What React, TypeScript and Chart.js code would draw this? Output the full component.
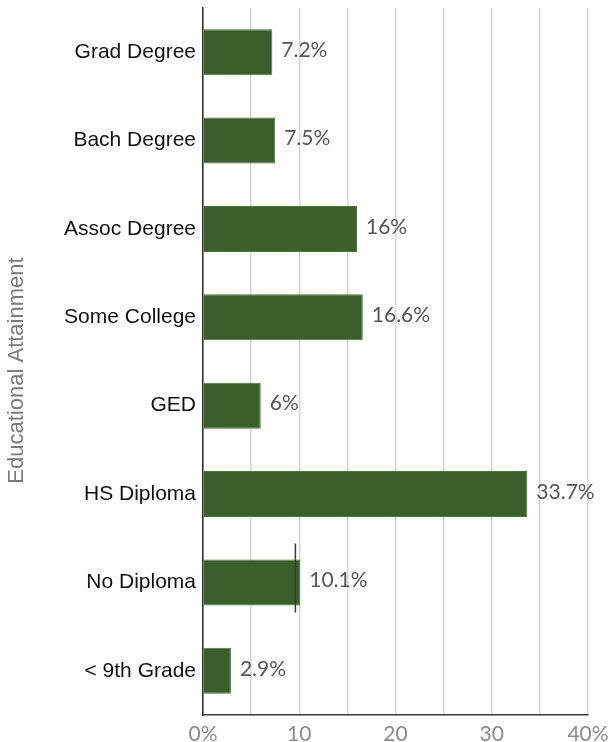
import React, { useEffect, useRef } from "react";
import { Chart, registerables } from "chart.js";

Chart.register(...registerables);

const categories = [
  "Grad Degree",
  "Bach Degree",
  "Assoc Degree",
  "Some College",
  "GED",
  "HS Diploma",
  "No Diploma",
  "< 9th Grade",
];
const values = [7.2, 7.5, 16, 16.6, 6, 33.7, 10.1, 2.9];
const valueLabels = ["7.2%", "7.5%", "16%", "16.6%", "6%", "33.7%", "10.1%", "2.9%"];
const xTickLabels: Record<number, string> = { 0: "0%", 10: "10", 20: "20", 30: "30", 40: "40%" };
const markerCategory = "No Diploma";
const markerValue = 9.6;
const axisTitle = "Educational Attainment";

const valueLabelPlugin = {
  id: "valueLabels",
  afterDatasetsDraw(chart: any) {
    const ctx = chart.ctx;
    const meta = chart.getDatasetMeta(0);
    ctx.save();
    ctx.font = "21px Lato, 'Liberation Sans', sans-serif";
    ctx.fillStyle = "#555555";
    ctx.textAlign = "left";
    ctx.textBaseline = "middle";
    meta.data.forEach((bar: any, i: number) => {
      ctx.fillText(valueLabels[i], bar.x + 9, bar.y - 2);
    });
    ctx.restore();
  },
};

const markerPlugin = {
  id: "marker",
  afterDatasetsDraw(chart: any) {
    const ctx = chart.ctx;
    const xScale = chart.scales.x;
    const yScale = chart.scales.y;
    const idx = categories.indexOf(markerCategory);
    const yc = yScale.getPixelForValue(idx);
    const step = yScale.height / categories.length;
    const x = xScale.getPixelForValue(markerValue);
    ctx.save();
    ctx.strokeStyle = "#3a3a3a";
    ctx.lineWidth = 1.5;
    ctx.beginPath();
    ctx.moveTo(x, yc - step * 0.44);
    ctx.lineTo(x, yc + step * 0.34);
    ctx.stroke();
    ctx.restore();
  },
};

const axisTitlePlugin = {
  id: "axisTitle",
  afterDraw(chart: any) {
    const ctx = chart.ctx;
    const area = chart.chartArea;
    const cy = (area.top + area.bottom) / 2 + 9;
    ctx.save();
    ctx.translate(17, cy);
    ctx.rotate(-Math.PI / 2);
    ctx.font = "22px 'Liberation Sans', Arial, sans-serif";
    ctx.fillStyle = "#7a7a7a";
    ctx.textAlign = "center";
    ctx.textBaseline = "middle";
    ctx.fillText(axisTitle, 0, 0);
    ctx.restore();
  },
};

export default function App() {
  const canvasRef = useRef<HTMLCanvasElement | null>(null);

  useEffect(() => {
    if (!canvasRef.current) return;
    const chart = new Chart(canvasRef.current, {
      type: "bar",
      data: {
        labels: categories,
        datasets: [
          {
            data: values,
            backgroundColor: "#3a5f2a",
            borderColor: "#4b7639",
            borderWidth: 1,
            categoryPercentage: 1,
            barPercentage: 0.52,
          },
        ],
      },
      options: {
        indexAxis: "y",
        animation: false,
        responsive: false,
        layout: { padding: { top: 8, right: 22, left: 0, bottom: 0 } },
        plugins: {
          legend: { display: false },
          tooltip: { enabled: false },
        },
        scales: {
          x: {
            min: 0,
            max: 40,
            ticks: {
              stepSize: 5,
              autoSkip: false,
              maxRotation: 0,
              padding: 7,
              color: "#8a8a8a",
              font: { family: "Lato, 'Liberation Sans', sans-serif", size: 21 },
              callback: (v: any) => xTickLabels[Number(v)] ?? "",
            },
            grid: {
              color: "#d6d6d6",
              lineWidth: 1.5,
              drawTicks: false,
            },
            border: { color: "#3a3a3a", width: 1.5 },
            afterFit: (scale: any) => {
              scale.height = 27;
              scale.paddingLeft = 0;
              scale.paddingRight = 0;
            },
          },
          y: {
            ticks: {
              padding: 7,
              color: "#111111",
              font: { family: "'Liberation Sans', Arial, sans-serif", size: 21 },
            },
            grid: { display: false, drawTicks: false },
            border: { color: "#2a2a2a", width: 1.5 },
            afterFit: (scale: any) => {
              scale.width = 203;
              scale.paddingTop = 0;
              scale.paddingBottom = 0;
            },
          },
        },
      },
      plugins: [valueLabelPlugin, markerPlugin, axisTitlePlugin],
    } as any);
    return () => chart.destroy();
  }, []);

  return (
    <div style={{ position: "absolute", left: 0, top: 0, width: 610, height: 742 }}>
      <canvas ref={canvasRef} width={610} height={742} style={{ display: "block" }} />
    </div>
  );
}
